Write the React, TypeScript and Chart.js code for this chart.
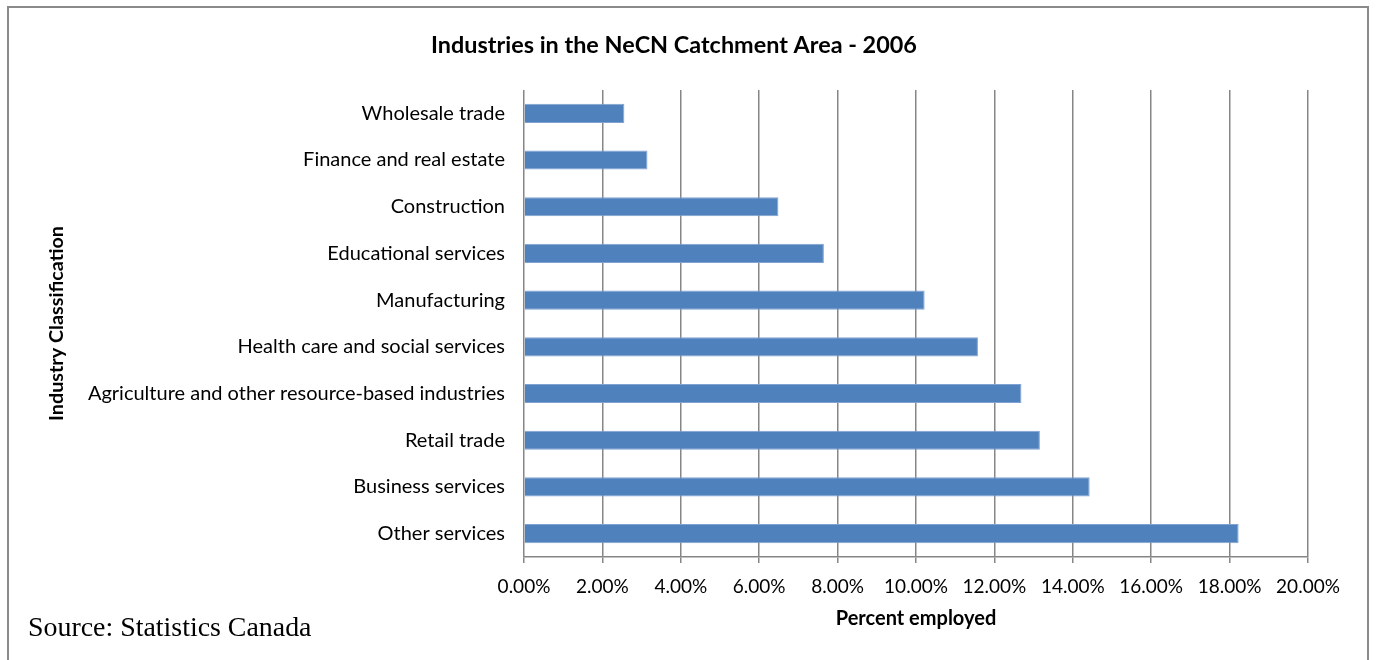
import React, { useEffect, useRef } from "react";
import { Chart, registerables } from "chart.js";

Chart.register(...registerables);

const categories = [
  "Wholesale trade",
  "Finance and real estate",
  "Construction",
  "Educational services",
  "Manufacturing",
  "Health care and social services",
  "Agriculture and other resource-based industries",
  "Retail trade",
  "Business services",
  "Other services",
];

const percentEmployed = [2.56, 3.15, 6.49, 7.65, 10.22, 11.58, 12.69, 13.16, 14.43, 18.23];

const xTickValues = [0, 2, 4, 6, 8, 10, 12, 14, 16, 18, 20];

const chartTitle = "Industries in the NeCN Catchment Area - 2006";
const xTitle = "Percent employed";
const yTitle = "Industry Classification";
const sourceText = "Source: Statistics Canada";

const FONT = "Lato, 'Open Sans', sans-serif";

export default function App() {
  const canvasRef = useRef<HTMLCanvasElement | null>(null);

  useEffect(() => {
    const canvas = canvasRef.current;
    if (!canvas) return;
    const chart = new Chart(canvas, {
      type: "bar",
      data: {
        labels: categories,
        datasets: [
          {
            data: percentEmployed,
            backgroundColor: "#4F81BD",
            borderColor: "#7FA2D2",
            borderWidth: 1,
            borderSkipped: "start",
            barPercentage: 0.41,
            categoryPercentage: 1,
          },
        ],
      },
      options: {
        indexAxis: "y",
        animation: false,
        responsive: true,
        maintainAspectRatio: false,
        layout: { padding: { left: 40, right: 69, top: 31, bottom: 20 } },
        plugins: {
          legend: { display: false },
          tooltip: { enabled: false },
          title: {
            display: true,
            text: chartTitle,
            color: "#000",
            font: { family: FONT, size: 23.4, weight: "bold" },
            padding: { top: 0, bottom: 30.9 },
          },
        },
        scales: {
          x: {
            type: "linear",
            min: 0,
            max: 20,
            afterBuildTicks: (scale: any) => {
              scale.ticks = xTickValues.map((v) => ({ value: v }));
            },
            afterFit: (scale: any) => {
              scale.height = 83;
            },
            ticks: {
              color: "#000",
              font: { family: FONT, size: 19 },
              padding: 12.5,
              maxRotation: 0,
              callback: (v: any) => Number(v).toFixed(2) + "%",
            },
            grid: {
              color: "#868686",
              lineWidth: 1.5,
              tickLength: 6,
              drawTicks: true,
            },
            border: { display: true, color: "#868686", width: 1.5 },
            title: {
              display: true,
              text: xTitle,
              color: "#000",
              font: { family: FONT, size: 20, weight: "bold" },
              padding: { top: 0, bottom: 9 },
            },
          },
          y: {
            type: "category",
            afterFit: (scale: any) => {
              scale.width = 484;
            },
            ticks: {
              color: "#000",
              font: { family: FONT, size: 20 },
              padding: 19,
            },
            grid: { display: false, drawTicks: false },
            border: { display: false },
            title: {
              display: true,
              text: yTitle,
              color: "#000",
              font: { family: FONT, size: 19.8, weight: "bold" },
              padding: { top: 5, bottom: 0 },
            },
          },
        },
      },
    });
    return () => chart.destroy();
  }, []);

  return (
    <div
      style={{
        position: "fixed",
        left: 0,
        top: 0,
        width: 1377,
        height: 660,
        background: "#fff",
        overflow: "hidden",
      }}
    >
      <div
        style={{
          position: "absolute",
          left: 7,
          top: 6,
          width: 1362,
          height: 700,
          border: "2px solid #8a8a8a",
          boxSizing: "border-box",
        }}
      />
      <div style={{ position: "absolute", left: 0, top: 0, width: 1377, height: 660 }}>
        <canvas ref={canvasRef} />
      </div>
      <div
        style={{
          position: "absolute",
          left: 28,
          top: 613,
          fontFamily: "'Liberation Serif', 'Times New Roman', serif",
          fontSize: 27.9,
          lineHeight: 1,
          color: "#000",
          whiteSpace: "nowrap",
        }}
      >
        {sourceText}
      </div>
    </div>
  );
}
